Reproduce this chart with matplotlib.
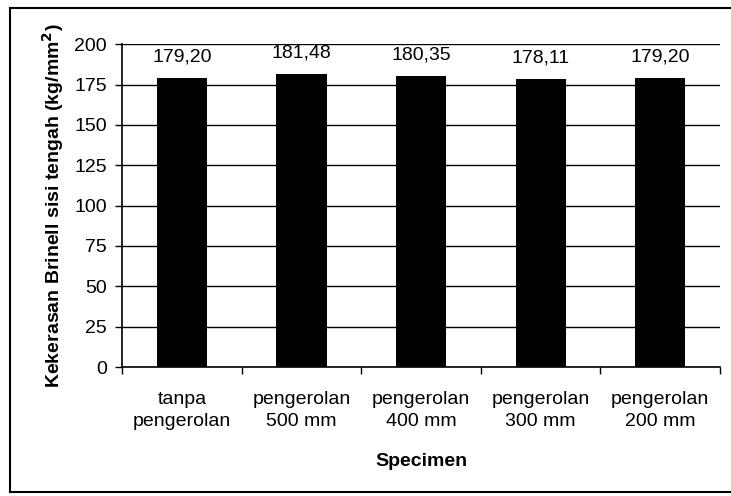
import numpy as np
import matplotlib.pyplot as plt
from matplotlib.lines import Line2D

specimens = ["tanpa\npengerolan", "pengerolan\n500 mm", "pengerolan\n400 mm",
             "pengerolan\n300 mm", "pengerolan\n200 mm"]
hardness = [179.20, 181.48, 180.35, 178.11, 179.20]
y_ticks = [0, 25, 50, 75, 100, 125, 150, 175, 200]

plt.rcParams['font.family'] = ['Liberation Sans', 'DejaVu Sans']
fontsize = 14

fig = plt.figure(figsize=(7.31, 4.96), dpi=100)
ax = fig.add_axes([0.167, 0.260, 0.818, 0.651])

x = np.arange(len(specimens))
ax.bar(x, hardness, width=0.42, color="black", zorder=3)

for xi, v in zip(x, hardness):
    ax.annotate(f"{v:.2f}".replace(".", ","), (xi, v), xytext=(0, 9),
                textcoords="offset points", ha="center", va="bottom",
                fontsize=fontsize)

ax.set_xlim(-0.5, len(specimens) - 0.5)
ax.set_ylim(0, 200)
ax.set_yticks(y_ticks)
ax.yaxis.grid(True, color="black", linewidth=1.0, zorder=0)
ax.set_axisbelow(True)

# category ticks sit on the boundaries, labels in the middle
ax.set_xticks(np.arange(len(specimens) + 1) - 0.5)
ax.set_xticklabels([])
ax.set_xticks(x, minor=True)
ax.set_xticklabels(specimens, minor=True, fontsize=fontsize, linespacing=1.4)
ax.tick_params(axis="x", which="minor", length=0, pad=17)
ax.tick_params(axis="x", which="major", length=5, direction="out", width=1)
ax.tick_params(axis="y", length=5, direction="out", width=1, pad=6,
               labelsize=fontsize)

for side in ["top", "right"]:
    ax.spines[side].set_visible(False)
for side in ["left", "bottom"]:
    ax.spines[side].set_linewidth(1.2)

ax.set_xlabel("Specimen", fontsize=fontsize, fontweight="bold", labelpad=17)
ax.set_ylabel("Kekerasan Brinell sisi tengah (kg/mm$^\\mathbf{2}$)",
              fontsize=fontsize, fontweight="bold", labelpad=6)

# outer frame around the chart
w, h = 731, 496
frame = [((10, 731), (h - 8, h - 8)), ((10, 10), (h - 8, h - 492)),
         ((10, 731), (h - 492, h - 492))]
for xs, ys in frame:
    fig.add_artist(Line2D([xx / w for xx in xs], [yy / h for yy in ys],
                          color="black", linewidth=1.5,
                          transform=fig.transFigure))

fig.savefig("out.png", dpi=100)
